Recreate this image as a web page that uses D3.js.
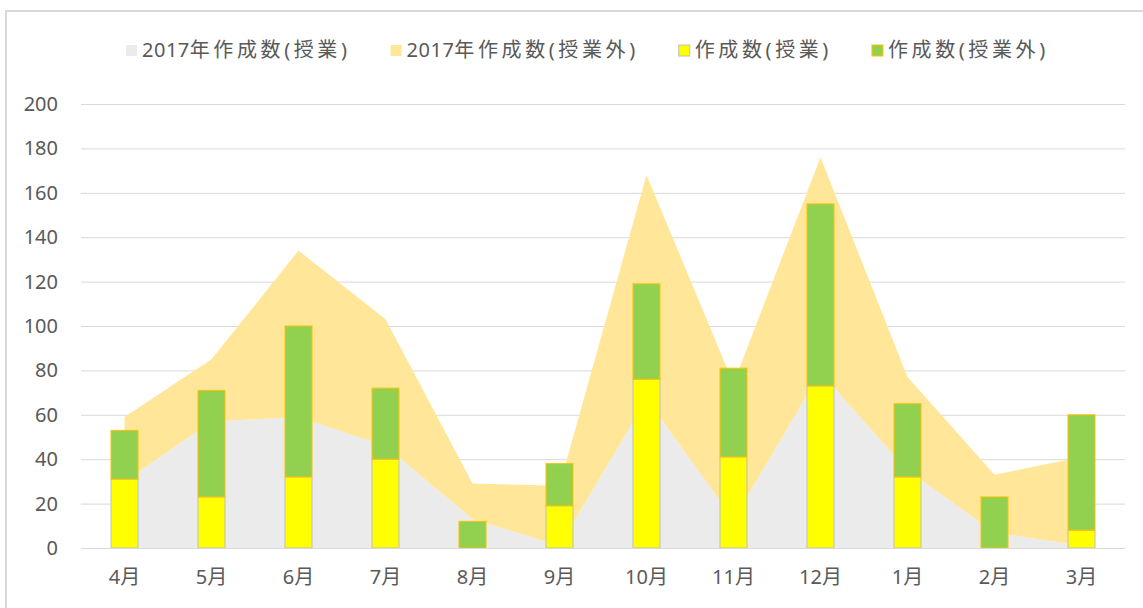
<!DOCTYPE html>
<html>
<head>
<meta charset="utf-8">
<script src="https://cdn.jsdelivr.net/npm/d3@7"></script>
<style>
  body { margin: 0; background: #fff; }
  svg text { font-family: "Noto Sans", "Noto Sans CJK JP", sans-serif; fill: #595959; }
</style>
</head>
<body>
<svg id="chart" width="1143" height="608"></svg>
<script>
// data
const months = ["4月", "5月", "6月", "7月", "8月", "9月", "10月", "11月", "12月", "1月", "2月", "3月"]
const prevClass = [30, 57, 59, 46, 13, 1, 67, 13, 79, 35, 7, 1]
const prevExtra = [29, 28, 75, 57, 16, 27, 101, 61, 97, 42, 26, 40]
const curClass = [31, 23, 32, 40, 0, 19, 76, 41, 73, 32, 0, 8]
const curExtra = [22, 48, 68, 32, 12, 19, 43, 40, 82, 33, 23, 52]
const yTicks = [0, 20, 40, 60, 80, 100, 120, 140, 160, 180, 200]
const seriesNames = ["2017年作成数(授業)", "2017年作成数(授業外)", "作成数(授業)", "作成数(授業外)"]

const colors = {
  prevClass: "#ebebeb",
  prevExtra: "#ffe699",
  curClass: "#ffff00",
  curExtra: "#92d050"
}

const margin = { top: 104, left: 81, right: 1125, bottom: 548 }
const svg = d3.select("#chart")

// chart frame
svg.append("rect")
  .attr("x", 6).attr("y", 11)
  .attr("width", 1160).attr("height", 620)
  .attr("fill", "#fff")
  .attr("stroke", "#d9d9d9")
  .attr("stroke-width", 2)

const x = d3.scaleBand().domain(months).range([margin.left, margin.right]).padding(0)
const y = d3.scaleLinear().domain([0, 200]).range([margin.bottom, margin.top])
const cx = m => x(m) + x.bandwidth() / 2
const barW = 27

// gridlines
const grid = svg.append("g")
  .attr("transform", `translate(${margin.left},0)`)
  .call(d3.axisLeft(y).tickValues(yTicks).tickSize(-(margin.right - margin.left)).tickFormat(""))
grid.select(".domain").remove()
grid.selectAll("line").attr("stroke", "#d9d9d9").attr("stroke-width", 1)

// stacked 2017 areas
const rows = months.map((m, i) => ({ month: m, a: prevClass[i], b: prevExtra[i] }))
const stacked = d3.stack().keys(["a", "b"])(rows)
const area = d3.area()
  .x(d => cx(d.data.month))
  .y0(d => y(d[0]))
  .y1(d => y(d[1]))
svg.append("g").selectAll("path")
  .data(stacked)
  .join("path")
  .attr("d", area)
  .attr("fill", (d, i) => i == 0 ? colors.prevClass : colors.prevExtra)

// stacked bars
const bars = svg.append("g")
months.forEach((m, i) => {
  const base = curClass[i]
  if (curClass[i] > 0) {
    bars.append("rect")
      .attr("x", cx(m) - barW / 2)
      .attr("y", y(base))
      .attr("width", barW)
      .attr("height", y(0) - y(base))
      .attr("fill", colors.curClass)
      .attr("stroke", "#bfbfbf")
      .attr("stroke-width", 1)
  }
  if (curExtra[i] > 0) {
    bars.append("rect")
      .attr("x", cx(m) - barW / 2)
      .attr("y", y(base + curExtra[i]))
      .attr("width", barW)
      .attr("height", y(base) - y(base + curExtra[i]))
      .attr("fill", colors.curExtra)
      .attr("stroke", "#ffc000")
      .attr("stroke-width", 1)
  }
})

// x axis
const xAxis = svg.append("g")
  .attr("transform", `translate(0,${margin.bottom})`)
  .call(d3.axisBottom(x).tickSize(0).tickPadding(22))
xAxis.select(".domain").attr("stroke", "#d9d9d9").attr("stroke-width", 1)
xAxis.selectAll("text").style("font-size", "20px").attr("fill", "#595959")

// y axis labels
const yAxis = svg.append("g")
  .attr("transform", `translate(${margin.left},0)`)
  .call(d3.axisLeft(y).tickValues(yTicks).tickSize(0).tickPadding(23))
yAxis.select(".domain").remove()
yAxis.selectAll("text").style("font-size", "20px").attr("fill", "#595959")

// legend - digits tight, japanese text spaced a bit like excel does
const legendColors = [colors.prevClass, colors.prevExtra, colors.curClass, colors.curExtra]
const legendStroke = ["none", "none", "#bfbfbf", "#ffc000"]
const legend = svg.append("g")
let lx = 126
seriesNames.forEach((name, i) => {
  legend.append("rect")
    .attr("x", lx).attr("y", 45)
    .attr("width", 11).attr("height", 11)
    .attr("fill", legendColors[i])
    .attr("stroke", legendStroke[i])
    .attr("stroke-width", 1)
  const t = legend.append("text")
    .attr("x", lx + 16).attr("y", 50)
    .attr("dy", "0.35em")
    .style("font-size", "20px")
  const m = name.match(/^(\d*)(.*)$/)
  if (m[1]) t.append("tspan").style("letter-spacing", "0.5px").text(m[1])
  t.append("tspan").style("letter-spacing", "3.6px").text(m[2])
  lx = lx + 16 + t.node().getComputedTextLength() + 40
})
</script>
</body>
</html>
